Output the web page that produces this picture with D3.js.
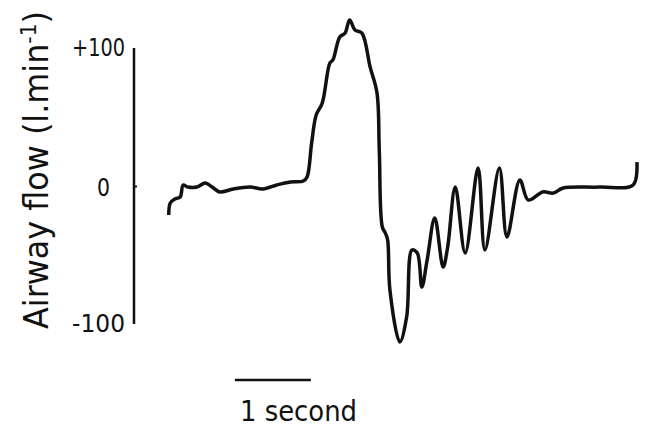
<!DOCTYPE html>
<html>
<head>
<meta charset="utf-8">
<script src="https://cdn.jsdelivr.net/npm/d3@7"></script>
<style>
  body { margin: 0; background: #fff; }
  text { font-family: "DejaVu Sans Condensed", "DejaVu Sans", sans-serif; fill: #111; }
</style>
</head>
<body>
<script>
// airway flow trace, time in seconds, flow in l/min
var times = [0.01,0.03,0.09,0.16,0.20,0.26,0.38,0.49,0.58,0.68,0.86,1.08,1.25,1.43,1.61,1.78,1.83,
  1.89,1.95,2.03,2.13,2.17,2.26,2.33,2.39,2.46,2.55,2.66,2.75,2.78,2.82,2.86,2.89,2.92,3.05,
  3.14,3.21,3.28,3.34,3.41,3.51,3.62,3.68,3.78,3.91,4.08,4.17,4.36,4.46,4.63,4.74,4.93,5.07,
  5.20,5.68,6.12,6.17];
var flows = [-20.9,-12.1,-9.2,-7.7,1.1,-0.4,-0.4,2.6,-0.4,-4.0,-1.8,-0.4,-1.8,1.1,3.3,4.0,7.0,
  31.9,52.4,61.2,90.5,92.7,109.5,112.5,122.0,114.7,112.5,87.5,68.5,26.7,-29.7,-34.1,-39.2,-75.8,-113.9,
  -95.6,-46.5,-48.7,-73.6,-53.8,-23.1,-59.0,-44.3,-0.4,-48.7,13.6,-46.5,13.6,-37.0,4.8,-9.9,-4.0,-4.8,
  -1.1,-0.4,1.1,17.9];
var yTicks = [100, 0, -100];
var yTickLabels = ["+100", "0", "-100"];
var scaleBarStart = 0.88; // seconds
var scaleBarLen = 1;

var width = 649, height = 433;
var svg = d3.select("body").append("svg")
  .attr("width", width)
  .attr("height", height);

var x = d3.scaleLinear().domain([0, 1]).range([168, 244]);
var y = d3.scaleLinear().domain([-100, 100]).range([323, 50]);

// y axis
var yAxis = d3.axisLeft(y)
  .tickValues(yTicks)
  .tickSize(0)
  .tickPadding(9)
  .tickFormat(function(d, i) { return yTickLabels[i]; });

var gy = svg.append("g")
  .attr("transform", "translate(134,0)")
  .call(yAxis);
gy.select(".domain").remove();
gy.selectAll("text")
  .style("font-size", "25px")
  .attr("dy", function(d) { return d == 100 ? "0.2em" : "0.35em"; })
  .attr("dx", function(d) { return d == 0 ? -15 : 0; })
  .attr("textLength", function(d) { return d == 0 ? 13 : 53; })
  .attr("lengthAdjust", "spacingAndGlyphs");

svg.append("line")
  .attr("x1", 134).attr("x2", 134)
  .attr("y1", y(100) - 2).attr("y2", y(-100) + 1)
  .attr("stroke", "#111").attr("stroke-width", 2.5);
svg.append("line")
  .attr("x1", 134).attr("x2", 137)
  .attr("y1", y(0)).attr("y2", y(0))
  .attr("stroke", "#111").attr("stroke-width", 2);

// axis title
var title = svg.append("text")
  .attr("transform", "translate(48," + 170 + ") rotate(-90)")
  .attr("text-anchor", "middle")
  .attr("textLength", 318)
  .attr("lengthAdjust", "spacingAndGlyphs")
  .style("font-size", "33px");
title.append("tspan").text("Airway flow (l.min");
title.append("tspan").text("-1").attr("baseline-shift", "super").style("font-size", "21px");
title.append("tspan").text(")");

// trace
var pts = times.map(function(t, i) { return [t, flows[i]]; });
var line = d3.line()
  .x(function(d) { return x(d[0]); })
  .y(function(d) { return y(d[1]); })
  .curve(d3.curveCatmullRom.alpha(0.5));

svg.append("path")
  .datum(pts)
  .attr("d", line)
  .attr("fill", "none")
  .attr("stroke", "#111")
  .attr("stroke-width", 3.5)
  .attr("stroke-linejoin", "round");

// time scale bar
svg.append("line")
  .attr("x1", x(scaleBarStart)).attr("x2", x(scaleBarStart + scaleBarLen))
  .attr("y1", 380).attr("y2", 380)
  .attr("stroke", "#111").attr("stroke-width", 2.5);
svg.append("text")
  .attr("x", 240)
  .attr("y", 421)
  .attr("textLength", 117)
  .attr("lengthAdjust", "spacingAndGlyphs")
  .style("font-size", "28px")
  .text("1 second");
</script>
</body>
</html>
